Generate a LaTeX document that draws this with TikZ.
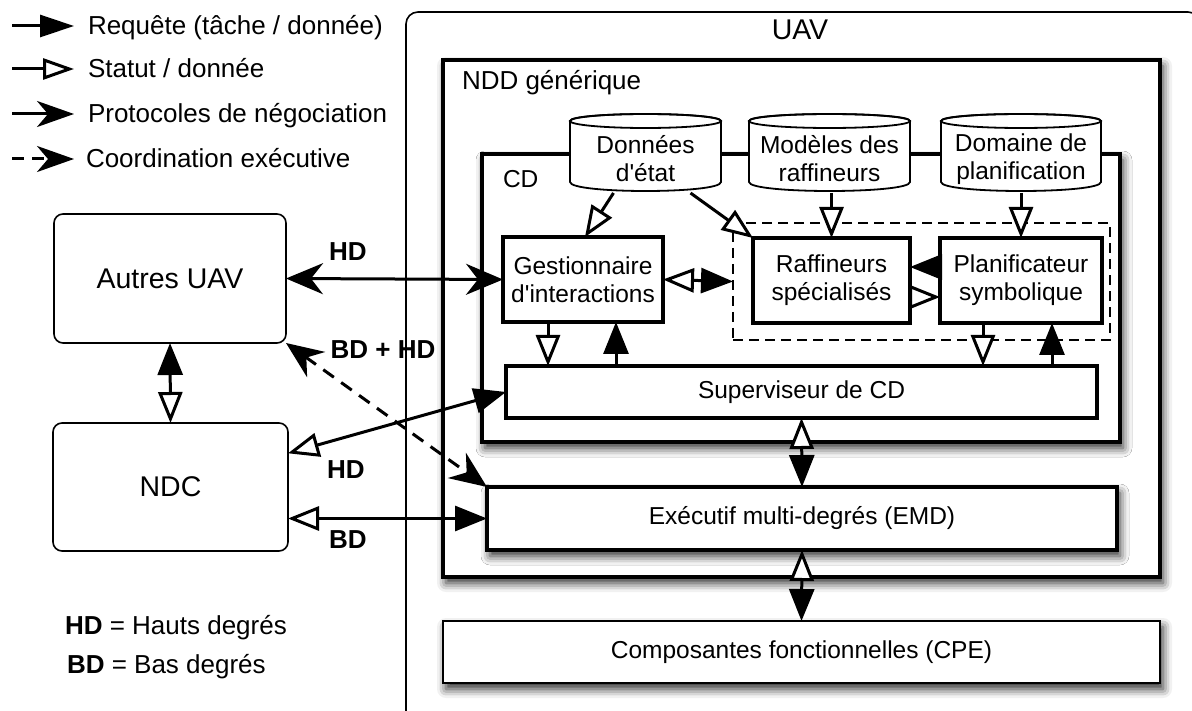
\documentclass[tikz,border=0pt]{standalone}
\usepackage{fontspec}
\setmainfont{Liberation Sans}
\usetikzlibrary{arrows.meta,calc,shadows.blur}
\newcommand\fntA{\fontsize{24.5}{28}\selectfont}
\newcommand\fntL{\fontsize{26}{30}\selectfont}
\newcommand\fntU{\fontsize{28.5}{32}\selectfont}
\newcommand\drawcyl[2]{%
  \path[draw, line width=1.8pt, fill=white] (#1,121) -- (#1,182) .. controls (#1,194) and (#2,194) .. (#2,182) -- (#2,121) .. controls (#2,111.7) and (#1,111.7) .. (#1,121) -- cycle;
  \draw[line width=1.8pt] ({(#1+#2)/2},121) ellipse [x radius={(#2-#1)/2}, y radius=7];
}
\tikzset{
  fA/.tip={Triangle[length=32pt,width=25pt]},
  oA/.tip={Triangle[open,fill=white,length=31pt,width=24pt]},
  sA/.tip={Stealth[length=37pt,width=31pt,inset=12pt]},
}
\begin{document}
\begin{tikzpicture}[x=1pt,y=-1pt,
  every node/.style={inner sep=0pt, outer sep=0pt},
  thickbox/.style={draw, line width=3.5pt, fill=white, align=center, font=\fntA},
  thinbox/.style={draw, line width=1.8pt, fill=white, align=center, font=\fntA},
  roundbox/.style={draw, line width=1.6pt, fill=white, rounded corners=9pt, align=center, font=\fntU},
  sh/.style={blur shadow={shadow xshift=3pt, shadow yshift=-6pt, shadow blur radius=9pt, shadow opacity=85}},
  cyltext/.style={align=center, font=\fntA},
  conn/.style={line width=3pt},
  lbl/.style={font=\fntL\bfseries},
  legtext/.style={font=\fntL, anchor=base west},
]
\useasboundingbox (0,0) rectangle (1192,711);

% UAV outer box
\node[draw, line width=1.6pt, rounded corners=12pt, minimum width=794pt, minimum height=713pt] (uav) at (803,368.5) {};
\node[font=\fntU, anchor=base] (uavl) at (800,40) {UAV};

% NDD
\node[thickbox, sh, line width=4pt, minimum width=717pt, minimum height=517pt] (ndd) at (801.5,318.5) {};
\node[legtext] (nddl) at (462,90) {NDD générique};

% CD
\node[thickbox, sh, line width=4pt, minimum width=638pt, minimum height=288pt] (cd) at (801,298) {};
\node[legtext, font=\fntA] (cdl) at (503,188) {CD};

% cylinders
\drawcyl{570}{721}
\drawcyl{749}{910}
\drawcyl{941}{1101}
\node[cyltext, minimum width=151pt, minimum height=68pt] (don) at (645.5,159) {Données\\d\textquotesingle état};
\node[cyltext, minimum width=161pt, minimum height=68pt] (mod) at (829.5,159) {Modèles des\\raffineurs};
\node[cyltext, minimum width=160pt, minimum height=68pt] (dom) at (1021,159) {Domaine de\\planification};

% dashed group
\node[draw, line width=1.6pt, dash pattern=on 10pt off 6pt, minimum width=377pt, minimum height=117pt] (grp) at (921.5,281.5) {};

% inner boxes
\node[thickbox, minimum width=160pt, minimum height=85pt] (gest) at (583,279.5) {Gestionnaire\\d\textquotesingle interactions};
\node[thickbox, minimum width=157pt, minimum height=85pt] (raf) at (831.5,280.5) {Raffineurs\\spécialisés};
\node[thickbox, minimum width=162pt, minimum height=85pt] (plan) at (1021,280.5) {Planificateur\\symbolique};
\node[thickbox, minimum width=591pt, minimum height=52pt] (sup) at (801.5,392) {Superviseur de CD};
\node[thickbox, sh, minimum width=630pt, minimum height=63pt] (emd) at (802,518.5) {Exécutif multi-degrés (EMD)};
\node[thinbox, sh, minimum width=717pt, minimum height=62pt] (cpe) at (801.5,652) {Composantes fonctionnelles (CPE)};

% left boxes
\node[roundbox, minimum width=232pt, minimum height=129pt] (autres) at (170,278.5) {Autres UAV};
\node[roundbox, minimum width=235pt, minimum height=128pt] (ndc) at (170.5,487) {NDC};

% connectors inside CD
\draw[conn, -oA] ($(don.south)+(-32,0)$) -- ($(gest.north)+(2,0)$);
\draw[conn, -oA] ($(don.south)+(45,0)$) -- (raf.north west);
\draw[conn, -oA] (mod.south -| raf.north) -- (raf.north);
\draw[conn, -oA] (dom.south -| plan.north) -- (plan.north);
\draw[conn, oA-fA] (gest.east) -- (grp.west);
\draw[conn, -fA] ([yshift=13.5pt]plan.west) -- ([yshift=13.5pt]raf.east);
\draw[conn, -oA] ([yshift=-16.5pt]raf.east) -- ([yshift=-16.5pt]plan.west);
\coordinate (g1) at ([xshift=-35pt]gest.south);
\coordinate (g2) at ([xshift=33pt]gest.south);
\coordinate (p1) at ([xshift=-38pt]plan.south);
\coordinate (p2) at ([xshift=31pt]plan.south);
\draw[conn, -oA] (g1) -- (g1 |- sup.north);
\draw[conn, -fA] (g2 |- sup.north) -- (g2);
\draw[conn, -oA] (p1) -- (p1 |- sup.north);
\draw[conn, -fA] (p2 |- sup.north) -- (p2);
\draw[conn, oA-fA] (sup.south) -- (emd.north);
\draw[conn, oA-fA] (emd.south) -- (cpe.north);

% external connectors
\draw[conn, sA-sA] (autres.east) -- (gest.west);
\draw[conn, sA-sA, dash pattern=on 13pt off 9pt] (autres.south east) -- (emd.north west);
\draw[conn, oA-fA] (ndc.16) -- (sup.west);
\draw[conn, oA-fA] (emd.west -| ndc.east) -- (emd.west);
\draw[conn, fA-oA] (autres.south) -- (ndc.north);

% connector labels
\node[lbl] (hd1) at (348,252) {HD};
\node[lbl] (bdhd) at (383,350) {BD + HD};
\node[lbl] (hd2) at (346,470) {HD};
\node[lbl] (bd1) at (348,540) {BD};

% legend
\coordinate (la1) at (12,26); \coordinate (lb1) at (74,26);
\coordinate (la2) at (12,69); \coordinate (lb2) at (74,69);
\coordinate (la3) at (12,114); \coordinate (lb3) at (74,114);
\coordinate (la4) at (12,159); \coordinate (lb4) at (74,159);
\draw[conn, -{Triangle[length=34pt,width=22pt]}] (la1) -- (lb1);
\draw[conn, -{Triangle[open,length=31pt,width=21pt]}] (la2) -- (lb2);
\draw[conn, -{Stealth[length=37pt,width=26pt,inset=11pt]}] (la3) -- (lb3);
\draw[conn, dash pattern=on 12pt off 8pt, -{Stealth[length=37pt,width=26pt,inset=11pt]}] (la4) -- (lb4);
\node[legtext] (leg1) at (88,35) {Requête (tâche / donnée)};
\node[legtext] (leg2) at (88,78) {Statut / donnée};
\node[legtext] (leg3) at (88,123) {Protocoles de négociation};
\node[legtext] (leg4) at (86,168) {Coordination exécutive};

\node[legtext] (kh) at (65,634) {\textbf{HD} = Hauts degrés};
\node[legtext] (kb) at (67,673) {\textbf{BD} = Bas degrés};
\end{tikzpicture}
\end{document}
